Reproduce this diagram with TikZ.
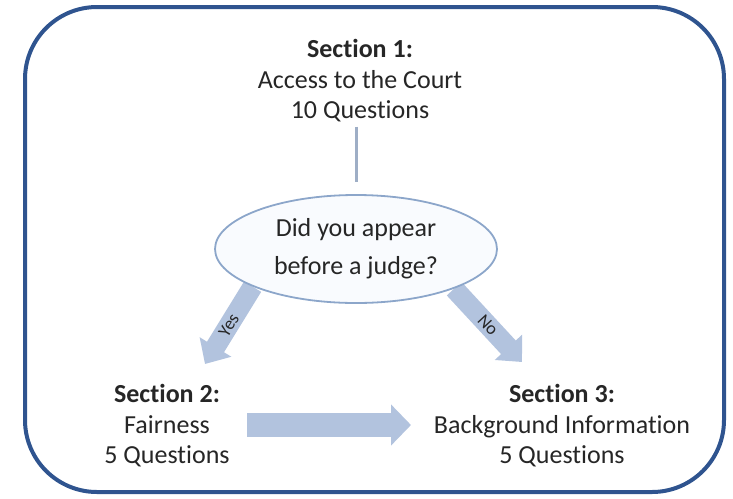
\documentclass[tikz,border=0pt]{standalone}
\usepackage{fontspec}
\setmainfont[Ligatures=NoCommon]{Carlito}
\usetikzlibrary{arrows.meta,shapes.geometric,backgrounds}
\definecolor{framec}{RGB}{47,84,143}
\definecolor{txt}{RGB}{38,38,38}
\definecolor{arrc}{RGB}{178,195,222}
\definecolor{ellb}{RGB}{140,166,202}
\definecolor{ellf}{RGB}{249,251,254}
\definecolor{vline}{RGB}{158,174,198}
\begin{document}
\begin{tikzpicture}[x=1pt,y=-1pt,
  sec/.style={align=center, text=txt, font=\fontsize{26}{30.5}\selectfont, inner sep=0pt},
  question/.style={ellipse, draw=ellb, line width=1.8pt, fill=ellf, minimum width=282pt, minimum height=108pt, inner sep=0pt, align=center, text=txt, font=\fontsize{26}{38}\selectfont},
  bigarrow/.style={draw=arrc, line width=20pt, -{Triangle[length=20pt,width=36pt]}},
  lab/.style={midway, sloped, text=txt, font=\fontsize{18}{18}\selectfont, inner sep=0pt}
]
\useasboundingbox (0,0) rectangle (733,498);
\draw[framec, line width=4pt, rounded corners=72pt] (25,7) rectangle (724,492);

\node[sec] (s1) at (360,81) {\textbf{Section 1:}\\Access to the Court\\10 Questions};
\node[sec] (s2) at (167,426) {\textbf{Section 2:}\\Fairness\\5 Questions};
\node[sec] (s3) at (562,426) {\textbf{Section 3:}\\Background Information\\5 Questions};
\node[question] (q) at (356,249) {Did you appear\\before a judge?};

\coordinate (yesend) at (205,364);
\coordinate (noend) at (522,362);
\coordinate (h1) at (247,425);
\coordinate (h2) at (411,425);

\draw[vline, line width=3pt, shorten <=4pt, shorten >=12pt] (s1.south -| q.north) -- (q.north);

\begin{pgfonlayer}{background}
\draw[bigarrow] (q.200) -- (yesend) node[lab] {Yes};
\draw[bigarrow] (q.338) -- (noend) node[lab] {No};
\end{pgfonlayer}
\draw[bigarrow, line width=24pt, -{Triangle[length=20pt,width=40pt]}] (h1) -- (h2);
\end{tikzpicture}
\end{document}
